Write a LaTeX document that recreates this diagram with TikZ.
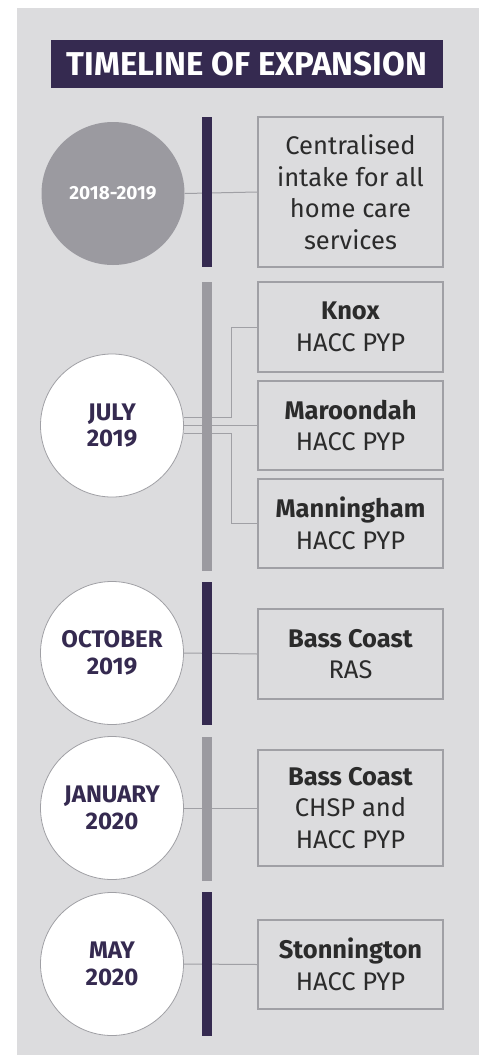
\documentclass[tikz,border=0pt]{standalone}
\usepackage{fontspec}
\setmainfont{Fira Sans}
\definecolor{panel}{RGB}{220,220,222}
\definecolor{navy}{RGB}{53,42,80}
\definecolor{midgrey}{RGB}{155,154,160}
\definecolor{linegrey}{RGB}{160,160,165}
\definecolor{txt}{RGB}{43,43,43}
\tikzset{
  xy/.style={x=1pt,y=-1pt},
  datecirc/.style={circle,draw=linegrey,line width=0.8pt,fill=white,minimum size=143pt,inner sep=0pt,
    text=navy,align=center,font=\fontsize{24}{26.5}\selectfont\bfseries},
  infobox/.style={rectangle,draw=linegrey,line width=1.3pt,minimum width=185pt,inner sep=0pt,
    text=txt,align=center,font=\fontsize{25.5}{31.5}\selectfont},
  conn/.style={draw=linegrey,line width=1pt},
  darkbar/.style={fill=navy,draw=none},
  greybar/.style={fill=midgrey,draw=none}
}
\begin{document}
\begin{tikzpicture}[xy]
\useasboundingbox (0,0) rectangle (483,1055);
\fill[panel] (17,8) rectangle (479,1055);
\node[fill=navy,text=white,minimum width=392pt,minimum height=48pt,inner sep=0pt,
  font=\fontsize{33}{36}\selectfont\bfseries] (title) at (247,64) {TIMELINE OF EXPANSION};
% circles
\node[datecirc,fill=midgrey,draw=none,text=white,font=\fontsize{19}{21}\selectfont\bfseries] (c1) at (113,193.5) {2018-2019};
\node[datecirc] (c2) at (112,425.5) {JULY\\2019};
\node[datecirc] (c3) at (112,653) {OCTOBER\\2019};
\node[datecirc] (c4) at (112,808) {JANUARY\\2020};
\node[datecirc] (c5) at (112,964) {MAY\\2020};
% boxes
\node[infobox,minimum height=150pt] (b1) at (350.5,192) {Centralised\\intake for all\\home care\\services};
\node[infobox,minimum height=90pt] (knox) at (350.5,327) {\textbf{Knox}\\HACC PYP};
\node[infobox,minimum height=89pt] (maro) at (350.5,425.5) {\textbf{Maroondah}\\HACC PYP};
\node[infobox,minimum height=89pt] (mann) at (350.5,523.5) {\textbf{Manningham}\\HACC PYP};
\node[infobox,minimum height=90pt] (bc1) at (350.5,654) {\textbf{Bass Coast}\\RAS};
\node[infobox,minimum height=116pt] (bc2) at (350.5,808) {\textbf{Bass Coast}\\CHSP and\\HACC PYP};
\node[infobox,minimum height=89pt] (ston) at (350.5,964.5) {\textbf{Stonnington}\\HACC PYP};
% connectors
\draw[conn] (c1.east) -- (b1.west);
\draw[conn] (c2.6.5) -| ([xshift=-26pt]knox.west) -- (knox.west);
\draw[conn] (c2.east) -- (maro.west);
\draw[conn] (c2.-6.5) -| ([xshift=-26pt]mann.west) -- (mann.west);
\draw[conn] (c3.east) -- (bc1.west);
\draw[conn] (c4.east) -- (bc2.west);
\draw[conn] (c5.east) -- (ston.west);
% bars
\fill[darkbar] (202,117) rectangle (212,267);
\fill[greybar] (202,282) rectangle (212,571);
\fill[darkbar] (202,582) rectangle (212,725);
\fill[greybar] (202,737) rectangle (212,881);
\fill[darkbar] (202,892) rectangle (212,1036);
\end{tikzpicture}
\end{document}
